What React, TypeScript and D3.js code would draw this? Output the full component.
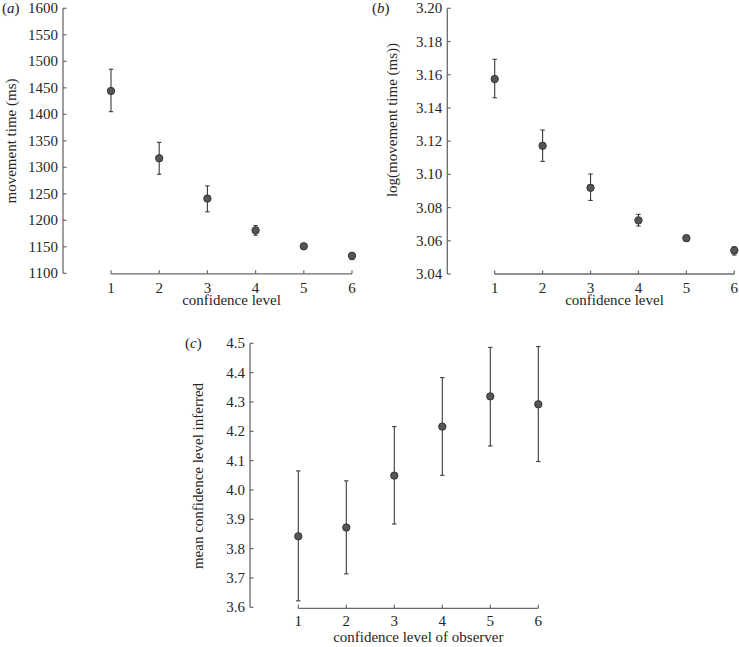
import React from "react";
import * as d3 from "d3";

const levels = [1, 2, 3, 4, 5, 6];

const mtMean = [1444, 1317, 1241, 1181, 1151, 1133];
const mtLow = [1405, 1287, 1216, 1172, 1146, 1126];
const mtHigh = [1485, 1347, 1265, 1190, 1156, 1138];
const mtTicks = [1100, 1150, 1200, 1250, 1300, 1350, 1400, 1450, 1500, 1550, 1600];

const logMean = [3.1574, 3.1172, 3.0919, 3.0723, 3.0616, 3.0542];
const logLow = [3.1461, 3.1078, 3.0843, 3.0689, 3.0596, 3.0514];
const logHigh = [3.1693, 3.1267, 3.1002, 3.0759, 3.0632, 3.0564];
const logTicks = [3.04, 3.06, 3.08, 3.1, 3.12, 3.14, 3.16, 3.18, 3.2];

const infMean = [3.842, 3.872, 4.049, 4.216, 4.319, 4.292];
const infLow = [3.622, 3.714, 3.884, 4.05, 4.15, 4.097];
const infHigh = [4.065, 4.031, 4.216, 4.383, 4.486, 4.489];
const infTicks = [3.6, 3.7, 3.8, 3.9, 4.0, 4.1, 4.2, 4.3, 4.4, 4.5];

const FONT = "'Liberation Serif', 'DejaVu Serif', serif";
const AXIS = "#6a6a6a";
const TEXT = "#262626";

type PanelProps = {
  tag: string;
  tagX: number;
  tagY: number;
  yAxisX: number;
  yTop: number;
  yBottom: number;
  xLeft: number;
  xRight: number;
  xAxisY: number;
  yDomain: [number, number];
  yTicks: number[];
  yFmt: (v: number) => string;
  mean: number[];
  low: number[];
  high: number[];
  yLabel: string;
  yLabelX: number;
  yLabelY: number;
  xLabel: string;
  xLabelY: number;
  tickLabelY: number;
};

function Panel(p: PanelProps) {
  const x = d3.scaleLinear().domain([1, 6]).range([p.xLeft, p.xRight]);
  const y = d3.scaleLinear().domain(p.yDomain).range([p.yBottom, p.yTop]);
  return (
    <g fontFamily={FONT} fill={TEXT}>
      <text x={p.tagX} y={p.tagY} fontSize={15}>
        (<tspan fontStyle="italic">{p.tag}</tspan>)
      </text>
      {/* y axis */}
      <line x1={p.yAxisX} x2={p.yAxisX} y1={y(p.yDomain[0])} y2={y(p.yDomain[1])} stroke={AXIS} strokeWidth={1.3} />
      {p.yTicks.map((t) => (
        <g key={t}>
          <line x1={p.yAxisX} x2={p.yAxisX + 3.5} y1={y(t)} y2={y(t)} stroke={AXIS} strokeWidth={1.2} />
          <text x={p.yAxisX - 5} y={y(t) + 5} fontSize={15} textAnchor="end">
            {p.yFmt(t)}
          </text>
        </g>
      ))}
      {/* x axis */}
      <line x1={x(1)} x2={x(6)} y1={p.xAxisY} y2={p.xAxisY} stroke={AXIS} strokeWidth={1.3} />
      {levels.map((l) => (
        <g key={l}>
          <line x1={x(l)} x2={x(l)} y1={p.xAxisY} y2={p.xAxisY - 3.5} stroke={AXIS} strokeWidth={1.2} />
          <text x={x(l)} y={p.tickLabelY} fontSize={15} textAnchor="middle">
            {l}
          </text>
        </g>
      ))}
      <text x={(x(1) + x(6)) / 2} y={p.xLabelY} fontSize={15} textAnchor="middle">
        {p.xLabel}
      </text>
      <text
        transform={`translate(${p.yLabelX},${p.yLabelY}) rotate(-90)`}
        fontSize={15}
        textAnchor="middle"
      >
        {p.yLabel}
      </text>
      {/* error bars and points */}
      {levels.map((l, i) => (
        <g key={"e" + l}>
          <line x1={x(l)} x2={x(l)} y1={y(p.low[i])} y2={y(p.high[i])} stroke="#3a3a3a" strokeWidth={1.1} />
          <line x1={x(l) - 2.2} x2={x(l) + 2.2} y1={y(p.low[i])} y2={y(p.low[i])} stroke="#3a3a3a" strokeWidth={1.1} />
          <line x1={x(l) - 2.2} x2={x(l) + 2.2} y1={y(p.high[i])} y2={y(p.high[i])} stroke="#3a3a3a" strokeWidth={1.1} />
          <circle cx={x(l)} cy={y(p.mean[i])} r={3.7} fill="#555" stroke="#2e2e2e" strokeWidth={0.9} />
        </g>
      ))}
    </g>
  );
}

export default function App() {
  return (
    <svg width={739} height={647} style={{ position: "absolute", left: 0, top: 0, background: "#fff" }}>
      <Panel
        tag="a"
        tagX={2}
        tagY={13}
        yAxisX={63}
        yTop={8.3}
        yBottom={273.3}
        xLeft={111}
        xRight={352}
        xAxisY={273.8}
        yDomain={[1100, 1600]}
        yTicks={mtTicks}
        yFmt={(v) => String(v)}
        mean={mtMean}
        low={mtLow}
        high={mtHigh}
        yLabel="movement time (ms)"
        yLabelX={16}
        yLabelY={141}
        xLabel="confidence level"
        xLabelY={305}
        tickLabelY={292.5}
      />
      <Panel
        tag="b"
        tagX={372}
        tagY={13}
        yAxisX={447.3}
        yTop={8.3}
        yBottom={274}
        xLeft={494.7}
        xRight={734.3}
        xAxisY={274}
        yDomain={[3.04, 3.2]}
        yTicks={logTicks}
        yFmt={(v) => v.toFixed(2)}
        mean={logMean}
        low={logLow}
        high={logHigh}
        yLabel="log(movement time (ms))"
        yLabelX={397}
        yLabelY={120}
        xLabel="confidence level"
        xLabelY={305}
        tickLabelY={292.5}
      />
      <Panel
        tag="c"
        tagX={185}
        tagY={348}
        yAxisX={250}
        yTop={343.3}
        yBottom={607.3}
        xLeft={298.3}
        xRight={538.3}
        xAxisY={608.3}
        yDomain={[3.6, 4.5]}
        yTicks={infTicks}
        yFmt={(v) => v.toFixed(1)}
        mean={infMean}
        low={infLow}
        high={infHigh}
        yLabel="mean confidence level inferred"
        yLabelX={203}
        yLabelY={476}
        xLabel="confidence level of observer"
        xLabelY={642}
        tickLabelY={625.5}
      />
    </svg>
  );
}
